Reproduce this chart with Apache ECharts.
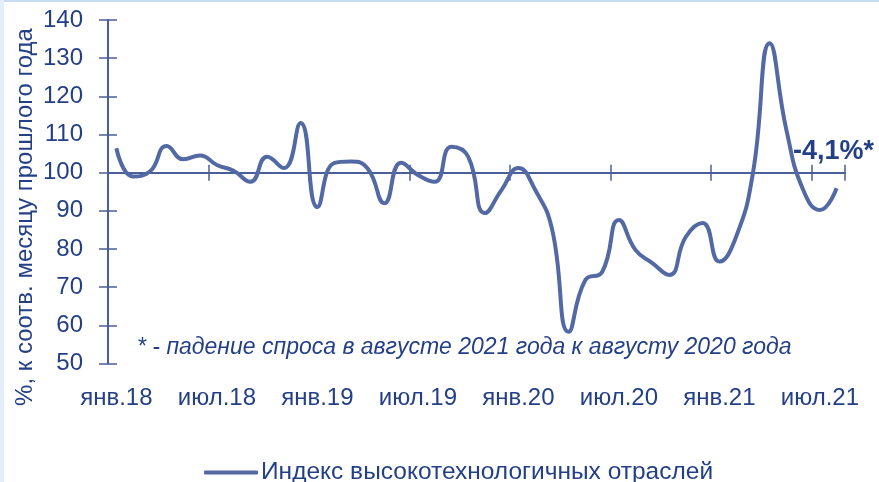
<!DOCTYPE html>
<html>
<head>
<meta charset="utf-8">
<script src="https://cdn.jsdelivr.net/npm/echarts@6/dist/echarts.min.js"></script>
<style>
  html, body { margin: 0; padding: 0; background: #fff; }
  #chart { width: 879px; height: 482px; }
</style>
</head>
<body>
<div id="chart"></div>
<script>
// Data
const monthNames = ['янв', 'фев', 'мар', 'апр', 'май', 'июн', 'июл', 'авг', 'сен', 'окт', 'ноя', 'дек']
const years = ['18', '19', '20', '21']
const lastMonthCount = 8 // янв.18 .. авг.21

const categories = []
years.forEach((y, yi) => {
  const n = yi === years.length - 1 ? lastMonthCount : 12
  for (let m = 0; m < n; m++) categories.push(monthNames[m] + '.' + y)
})

const hiTechIndex = [
  106.4, 99, 100.3, 107, 103.5, 104.5, 102, 100.5, 97.6, 104.2, 101.2, 113,
  91, 102.5, 102.9, 101.1, 92, 102.6, 99.4, 97.6, 106.8, 104.2, 89.4, 95.5,
  101.2, 95.5, 85.4, 58.3, 71.9, 74, 87.6, 79.7, 76.3, 73.2, 83.2, 86.8,
  76.7, 83.2, 99.8, 133.9, 111.2, 95.5, 90.2, 95.9
]

const seriesName = 'Индекс высокотехнологичных отраслей'
const yAxisName = '%, к соотв. месяцу прошлого года'
const noteText = '* - падение спроса в августе 2021 года к августу 2020 года'
const calloutText = '-4,1%*'

// Styles
const textColor = '#233f86'
const axisColor = '#4a5f98'
const lineColor = '#5269a3'
const font = 'Liberation Sans, Arial, sans-serif'

const gridTop = 20
const gridBottomPx = 363.5
const baseOffset = -(gridBottomPx - (gridTop + (gridBottomPx - gridTop) * 40 / 90))

const chart = echarts.init(document.getElementById('chart'))

const baseCat = {
  type: 'category',
  data: categories,
  boundaryGap: true,
  position: 'bottom',
  splitLine: { show: false }
}

chart.setOption({
  animation: false,
  backgroundColor: '#fff',
  textStyle: { fontFamily: font },
  grid: { left: 108, right: 34, top: gridTop, bottom: 482 - gridBottomPx },
  xAxis: [
    {
      ...baseCat,
      axisLine: { show: false },
      axisTick: { show: false },
      axisLabel: { interval: 5, margin: 23, fontSize: 24, color: textColor, fontFamily: font }
    },
    {
      ...baseCat,
      offset: baseOffset,
      axisLine: { show: true, lineStyle: { color: axisColor, width: 2 } },
      axisTick: { show: true, interval: 5, length: 8, lineStyle: { color: axisColor, width: 1.5 } },
      axisLabel: { show: false }
    },
    {
      ...baseCat,
      offset: baseOffset,
      axisLine: { show: false },
      axisTick: { show: true, inside: true, interval: 5, length: 8, lineStyle: { color: axisColor, width: 1.5 } },
      axisLabel: { show: false }
    }
  ],
  yAxis: [
    {
      type: 'value',
      min: 50,
      max: 140,
      interval: 10,
      axisLine: { show: true, lineStyle: { color: axisColor, width: 2 } },
      axisTick: { show: true, length: 9, lineStyle: { color: axisColor, width: 1.5 } },
      axisLabel: { margin: 25, fontSize: 24, color: textColor, fontFamily: font },
      splitLine: { show: false }
    },
    {
      type: 'value',
      min: 50,
      max: 140,
      interval: 10,
      position: 'left',
      axisLine: { show: false },
      axisTick: { show: true, inside: true, length: 9, lineStyle: { color: axisColor, width: 1.5 } },
      axisLabel: { show: false },
      splitLine: { show: false }
    }
  ],
  legend: {
    left: 199,
    top: 455,
    itemWidth: 54,
    itemHeight: 4,
    itemGap: 4,
    textStyle: { fontSize: 24.5, color: textColor, fontFamily: font, padding: [0, 0, 0, -2] },
    data: [{ name: seriesName, icon: 'roundRect' }]
  },
  series: [
    {
      name: seriesName,
      type: 'line',
      data: hiTechIndex,
      smooth: 0.5,
      symbol: 'none',
      lineStyle: { color: lineColor, width: 4 },
      itemStyle: { color: lineColor }
    }
  ],
  graphic: [
    { type: 'rect', shape: { x: 0, y: 0, width: 879, height: 2 }, style: { fill: '#c6dcf1' }, silent: true },
    { type: 'rect', shape: { x: 0, y: 0, width: 4, height: 482 }, style: { fill: '#e4eefa' }, silent: true },
    {
      type: 'text',
      x: 25,
      y: 217,
      rotation: Math.PI / 2,
      style: {
        text: yAxisName,
        fill: textColor,
        font: '24px ' + font,
        textAlign: 'center',
        textVerticalAlign: 'middle'
      }
    },
    {
      type: 'text',
      x: 137,
      y: 348,
      style: {
        text: noteText,
        fill: textColor,
        font: 'italic 23px ' + font,
        textAlign: 'left',
        textVerticalAlign: 'middle'
      }
    },
    {
      type: 'text',
      x: 793,
      y: 152,
      style: {
        text: calloutText,
        fill: textColor,
        font: 'bold 27px ' + font,
        textAlign: 'left',
        textVerticalAlign: 'middle'
      }
    }
  ]
})
</script>
</body>
</html>
